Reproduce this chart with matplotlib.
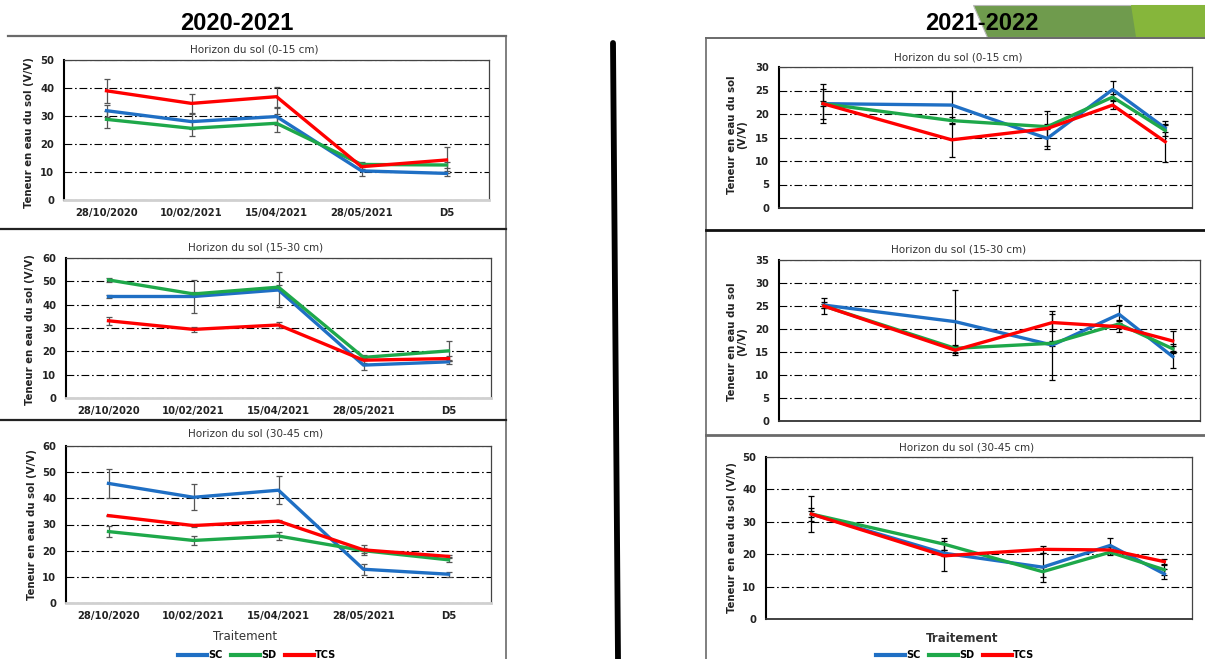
import matplotlib
matplotlib.use("Agg")
import matplotlib.pyplot as plt
import numpy as np
from matplotlib.patches import Polygon

W, H = 1205, 659

# ---- data -------------------------------------------------------------
dates_2021 = ["28/10/2020", "10/02/2021", "15/04/2021", "28/05/2021", "D5"]
# 2021-2022: sampling days (no tick labels shown on the original)
jours_2122 = [0, 120, 209, 270, 319]
series = ["SC", "SD", "TCS"]

# 2020-2021, horizon 0-15 cm
sc_0_15 = [31.9, 28.0, 29.8, 10.4, 9.5]
sd_0_15 = [28.8, 25.6, 27.4, 12.7, 12.5]
tcs_0_15 = [39.0, 34.5, 36.9, 11.9, 14.3]
sc_0_15_err = [2.2, 2.6, 2.9, 2.0, 1.0]
sd_0_15_err = [3.0, 2.7, 3.2, 1.0, 1.0]
tcs_0_15_err = [4.3, 3.4, 3.6, 1.0, 4.5]

# 2020-2021, horizon 15-30 cm
sc_15_30 = [43.5, 43.5, 46.3, 14.1, 15.5]
sd_15_30 = [50.6, 44.6, 47.5, 17.4, 20.2]
tcs_15_30 = [33.1, 29.4, 31.3, 16.2, 16.9]
sc_15_30_err = [0.5, 6.9, 7.5, 2.2, 1.0]
sd_15_30_err = [0.8, 1.0, 1.0, 1.0, 4.3]
tcs_15_30_err = [1.6, 1.2, 1.1, 1.0, 1.0]

# 2020-2021, horizon 30-45 cm
sc_30_45 = [45.7, 40.4, 43.1, 12.9, 11.0]
sd_30_45 = [27.3, 23.9, 25.6, 20.0, 16.5]
tcs_30_45 = [33.4, 29.6, 31.3, 20.3, 17.8]
sc_30_45_err = [5.6, 4.9, 5.4, 2.1, 1.0]
sd_30_45_err = [2.0, 1.7, 1.7, 1.0, 1.0]
tcs_30_45_err = [0.3, 0.5, 0.5, 1.9, 0.5]

# 2021-2022, horizon 0-15 cm
sc_0_15_b = [22.2, 21.9, 14.8, 25.2, 17.0]
sd_0_15_b = [22.2, 18.6, 17.3, 23.6, 16.5]
tcs_0_15_b = [22.2, 14.5, 16.9, 21.9, 14.1]
sc_0_15_b_err = [3.2, 3.0, 2.2, 1.8, 0.8]
sd_0_15_b_err = [0.5, 0.8, 0.5, 0.6, 1.2]
tcs_0_15_b_err = [4.1, 3.6, 3.7, 0.9, 4.4]

# 2021-2022, horizon 15-30 cm
sc_15_30_b = [25.2, 21.6, 16.5, 23.2, 14.0]
sd_15_30_b = [25.0, 15.8, 16.9, 21.1, 15.7]
tcs_15_30_b = [25.0, 15.4, 21.4, 20.5, 17.4]
sc_15_30_b_err = [0.6, 6.8, 7.5, 2.0, 2.4]
sd_15_30_b_err = [0.5, 0.8, 0.5, 0.8, 1.0]
tcs_15_30_b_err = [1.7, 1.0, 1.8, 1.2, 2.2]

# 2021-2022, horizon 30-45 cm
sc_30_45_b = [32.4, 20.3, 16.0, 22.7, 13.9]
sd_30_45_b = [32.4, 23.1, 14.6, 20.6, 15.2]
tcs_30_45_b = [32.4, 19.5, 21.5, 21.3, 17.7]
sc_30_45_b_err = [2.0, 1.0, 4.5, 2.2, 1.5]
sd_30_45_b_err = [5.6, 1.8, 1.5, 1.0, 1.5]
tcs_30_45_b_err = [1.0, 4.6, 1.0, 1.0, 0.8]

colors = {"SC": "#1f6fc4", "SD": "#1ea84a", "TCS": "#ff0000"}

plt.rcParams["font.family"] = "DejaVu Sans"

fig = plt.figure(figsize=(W / 100, H / 100), dpi=100)
fig.patch.set_facecolor("white")

# background layer in pixel coordinates for the slide decoration
bg = fig.add_axes([0, 0, 1, 1], zorder=-1)
bg.set_xlim(0, W)
bg.set_ylim(H, 0)
bg.axis("off")
bg.add_patch(Polygon([(973, 5), (1205, 5), (1205, 37), (987, 37)], closed=True,
                     facecolor="#6f9b4d", edgecolor="#b9b9b9", lw=0.8))
bg.add_patch(Polygon([(1131, 5), (1205, 5), (1205, 37), (1136, 37)], closed=True,
                     facecolor="#86b63b", edgecolor="none"))
# panel frames, left
bg.plot([8, 506], [36, 36], color="#6a6a6a", lw=1.6)
bg.plot([506, 506], [36, 659], color="#6a6a6a", lw=1.2)
bg.plot([0, 506], [229, 229], color="#222222", lw=1.6)
bg.plot([0, 506], [420, 420], color="#222222", lw=1.6)
# panel frames, right
bg.plot([706, 1205], [38, 38], color="#6a6a6a", lw=1.4)
bg.plot([706, 706], [38, 659], color="#6a6a6a", lw=1.2)
bg.plot([706, 1205], [230, 230], color="#111111", lw=2.0)
bg.plot([706, 1205], [435, 435], color="#6a6a6a", lw=2.0)
# thick divider
bg.plot([613, 618], [43, 659], color="black", lw=4.2, solid_capstyle="round")

fig.text(237 / W, 1 - 23 / H, "2020-2021", ha="center", va="center",
         fontsize=17, fontweight="bold", family="Liberation Sans")
fig.text(982 / W, 1 - 24 / H, "2021-2022", ha="center", va="center",
         fontsize=17, fontweight="bold", family="Liberation Sans")


def px_axes(x0, y0, x1, y1):
    return fig.add_axes([x0 / W, 1 - y1 / H, (x1 - x0) / W, (y1 - y0) / H])


def draw_panel(ax, x, data, errs, ymax, step, ecolor, xlim=None, labels=None):
    for name, vals, err in zip(series, data, errs):
        ax.errorbar(x, vals, yerr=err, fmt="none", ecolor=ecolor, elinewidth=0.9,
                    capsize=2.4, capthick=0.9, zorder=2)
    handles = []
    for name, vals in zip(series, data):
        h, = ax.plot(x, vals, color=colors[name], lw=2.4, label=name, zorder=3)
        handles.append(h)
    ax.set_ylim(0, ymax)
    ax.set_yticks(np.arange(0, ymax + 0.1, step))
    if xlim is not None:
        ax.set_xlim(*xlim)
    if labels is not None:
        ax.set_xticks(x)
        ax.set_xticklabels(labels)
    else:
        ax.set_xticks([])
    ax.tick_params(axis="both", length=0, labelsize=7.2, colors="#222222")
    ax.tick_params(axis="y", pad=7)
    ax.tick_params(axis="x", pad=6)
    for lab in ax.get_xticklabels() + ax.get_yticklabels():
        lab.set_fontweight("bold")
    ax.yaxis.grid(True, color="black", lw=0.8, linestyle=(0, (7, 2.5, 1.5, 2.5)))
    ax.set_axisbelow(True)
    ax.spines["left"].set_color("black")
    ax.spines["left"].set_linewidth(1.5)
    if labels is not None:
        ax.spines["bottom"].set_color("#d0d0d0")
        ax.spines["bottom"].set_linewidth(2.0)
    else:
        ax.spines["bottom"].set_color("#333333")
        ax.spines["bottom"].set_linewidth(1.3)
    for side in ["top", "right"]:
        ax.spines[side].set_color("#444444")
        ax.spines[side].set_linewidth(0.9)
    return handles


x_left = np.arange(len(dates_2021))
xlim_left = (-0.5, len(dates_2021) - 0.5)
xlim_right = (-41, 344)

# ---- 2020-2021 ----------------------------------------------------------
ax1 = px_axes(64, 60, 489, 200)
draw_panel(ax1, x_left, [sc_0_15, sd_0_15, tcs_0_15],
           [sc_0_15_err, sd_0_15_err, tcs_0_15_err], 50, 10, "#555555",
           xlim_left, dates_2021)
ax2 = px_axes(66, 258, 491, 398)
draw_panel(ax2, x_left, [sc_15_30, sd_15_30, tcs_15_30],
           [sc_15_30_err, sd_15_30_err, tcs_15_30_err], 60, 10, "#555555",
           xlim_left, dates_2021)
ax3 = px_axes(66, 446, 491, 603)
h_left = draw_panel(ax3, x_left, [sc_30_45, sd_30_45, tcs_30_45],
                    [sc_30_45_err, sd_30_45_err, tcs_30_45_err], 60, 10, "#555555",
                    xlim_left, dates_2021)

# ---- 2021-2022 ----------------------------------------------------------
ax4 = px_axes(779, 67, 1192, 208)
draw_panel(ax4, jours_2122, [sc_0_15_b, sd_0_15_b, tcs_0_15_b],
           [sc_0_15_b_err, sd_0_15_b_err, tcs_0_15_b_err], 30, 5, "black", xlim_right)
ax5 = px_axes(779, 260, 1200, 421)
draw_panel(ax5, jours_2122, [sc_15_30_b, sd_15_30_b, tcs_15_30_b],
           [sc_15_30_b_err, sd_15_30_b_err, tcs_15_30_b_err], 35, 5, "black", xlim_right)
ax6 = px_axes(766, 457, 1192, 619)
h_right = draw_panel(ax6, jours_2122, [sc_30_45_b, sd_30_45_b, tcs_30_45_b],
                     [sc_30_45_b_err, sd_30_45_b_err, tcs_30_45_b_err], 50, 10, "black",
                     xlim_right)

# ---- texts ---------------------------------------------------------------
title_kw = dict(ha="center", va="center", fontsize=7.5, color="#333333")
for xc, yc, txt in [(254, 49, "Horizon du sol (0-15 cm)"),
                    (256, 248, "Horizon du sol (15-30 cm)"),
                    (256, 433, "Horizon du sol (30-45 cm)"),
                    (958, 58, "Horizon du sol (0-15 cm)"),
                    (959, 249, "Horizon du sol (15-30 cm)"),
                    (967, 447, "Horizon du sol (30-45 cm)")]:
    fig.text(xc / W, 1 - yc / H, txt, **title_kw)

ylab_kw = dict(ha="center", va="center", rotation=90, fontsize=7.3,
               fontweight="bold", color="#222222", linespacing=1.1)
fig.text(29 / W, 1 - 133 / H, "Teneur en eau du sol (V/V)", **ylab_kw)
fig.text(30 / W, 1 - 330 / H, "Teneur en eau du sol (V/V)", **ylab_kw)
fig.text(32 / W, 1 - 525 / H, "Teneur en eau du sol (V/V)", **ylab_kw)
fig.text(737 / W, 1 - 135 / H, "Teneur en eau du sol\n(V/V)", **ylab_kw)
fig.text(737 / W, 1 - 342 / H, "Teneur en eau du sol\n(V/V)", **ylab_kw)
fig.text(732 / W, 1 - 538 / H, "Teneur en eau du sol (V/V)", **ylab_kw)

fig.text(245 / W, 1 - 637 / H, "Traitement", ha="center", va="center",
         fontsize=8.5, color="#333333")
fig.text(962 / W, 1 - 638 / H, "Traitement", ha="center", va="center",
         fontsize=8.5, color="#333333", fontweight="bold")

leg_kw = dict(loc="center", ncol=3, frameon=False, handlelength=3.0,
              handletextpad=0.1, columnspacing=0.9, borderpad=0,
              prop={"size": 7, "weight": "bold"})
leg1 = fig.legend(h_left, series, bbox_to_anchor=(257 / W, 1 - 655 / H), **leg_kw)
leg2 = fig.legend(h_right, series, bbox_to_anchor=(955 / W, 1 - 655 / H), **leg_kw)
for leg in (leg1, leg2):
    for ln in leg.get_lines():
        ln.set_linewidth(3)

fig.savefig("out.png", dpi=100, facecolor="white")
